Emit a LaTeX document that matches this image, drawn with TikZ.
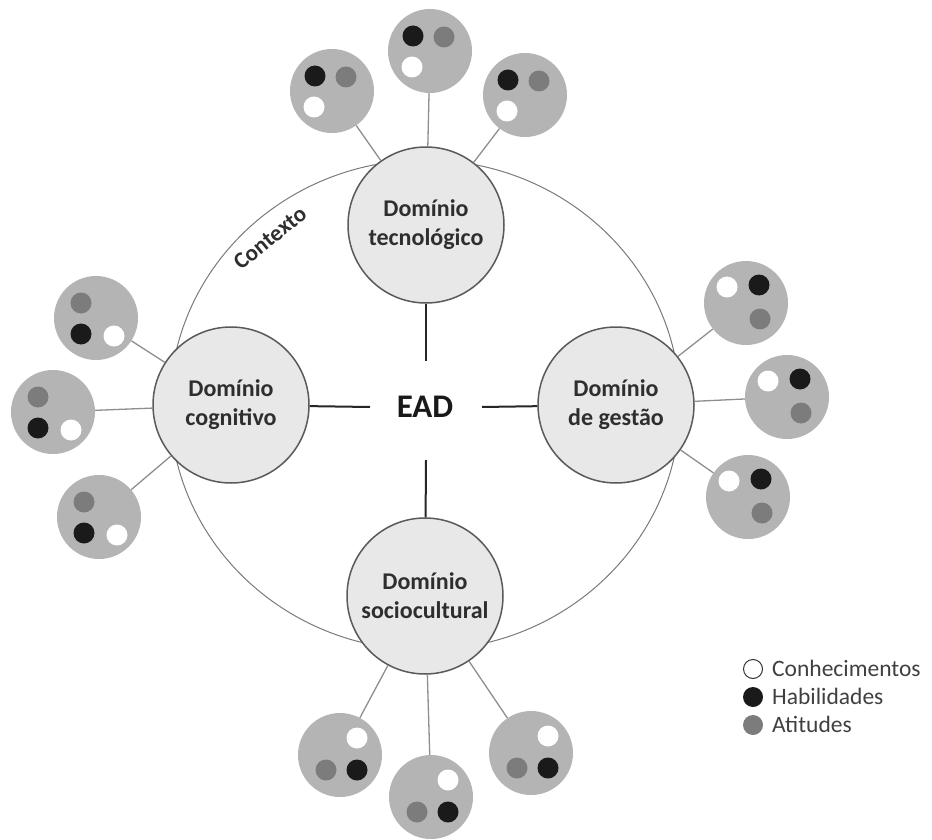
\documentclass[tikz,border=0pt]{standalone}
\usepackage{fontspec}
\setmainfont{Carlito}
\definecolor{satgray}{HTML}{B4B4B4}
\definecolor{domfill}{HTML}{E8E8E8}
\definecolor{domline}{HTML}{5A5A5A}
\definecolor{ringline}{HTML}{7A7A7A}
\definecolor{linkline}{HTML}{8E8E8E}
\definecolor{dotblack}{HTML}{1A1A1A}
\definecolor{dotgray}{HTML}{7C7C7C}
\definecolor{txt}{HTML}{2E2E2E}
\newcommand\dotset[7]{%
  \fill[white] ([shift={(#2,#3)}]#1) circle (10.5pt);
  \fill[dotblack] ([shift={(#4,#5)}]#1) circle (10.5pt);
  \fill[dotgray] ([shift={(#6,#7)}]#1) circle (10.5pt);
}
\begin{document}
\begin{tikzpicture}[x=1pt,y=-1pt,
  sat/.style={circle,fill=satgray,minimum size=84pt,inner sep=0pt},
  dom/.style={circle,fill=domfill,draw=domline,line width=1.5pt,minimum size=156pt,inner sep=0pt,
    align=center,font=\fontsize{24}{29}\selectfont\bfseries,text=txt},
  link/.style={draw=linkline,line width=1.3pt},
  hub/.style={draw=black!85,line width=2pt},
  leg/.style={anchor=west,font=\fontsize{23.5}{26}\selectfont,text=black!75,inner sep=0pt}]
\useasboundingbox (0,0) rectangle (932,840);
% context ring
\draw[ringline,line width=1pt] (425,405) ellipse [x radius=255pt,y radius=245pt];
\node[rotate=39,font=\fontsize{23}{26}\selectfont\bfseries,text=txt,inner sep=0pt] (ctx) at (270,238) {Contexto};
% satellites
\node[sat] (t1) at (332,91) {};
\node[sat] (t2) at (430,51) {};
\node[sat] (t3) at (525,95) {};
\node[sat] (c1) at (96,318) {};
\node[sat] (c2) at (53,412) {};
\node[sat] (c3) at (99,517) {};
\node[sat] (g1) at (746,303) {};
\node[sat] (g2) at (787,397) {};
\node[sat] (g3) at (748,497) {};
\node[sat] (s1) at (340,755) {};
\node[sat] (s2) at (431,797) {};
\node[sat] (s3) at (531,753) {};
% domains
\node[dom] (tec) at (426,225) {Domínio\\tecnológico};
\node[dom] (cog) at (231,405) {Domínio\\cognitivo};
\node[dom] (ges) at (616,405) {Domínio\\de gestão};
\node[dom] (soc) at (425,596) {Domínio\\sociocultural};
% links
\foreach \s in {t1,t2,t3} \draw[link] (\s) -- (tec);
\foreach \s in {c1,c2,c3} \draw[link] (\s) -- (cog);
\foreach \s in {g1,g2,g3} \draw[link] (\s) -- (ges);
\foreach \s in {s1,s2,s3} \draw[link] (\s) -- (soc);
% dots: white, black, gray
\foreach \s in {t1,t2,t3} {\dotset{\s}{-18}{16}{-17}{-15}{14}{-14}}
\foreach \s in {c1,c2,c3} {\dotset{\s}{18}{18}{-15}{16}{-15}{-15}}
\foreach \s in {g1,g2,g3} {\dotset{\s}{-19}{-16}{13}{-18}{14}{16}}
\foreach \s in {s1,s2,s3} {\dotset{\s}{17}{-17}{17}{15}{-14}{15}}
% hub
\node[font=\fontsize{33}{36}\selectfont\bfseries,text=black!90] (ead) at (425,407) {EAD};
\coordinate (hl) at (370,407);
\coordinate (hr) at (482,407);
\coordinate (ht) at (426,361);
\coordinate (hb) at (426,460);
\draw[hub] (cog) -- (hl);
\draw[hub] (hr) -- (ges);
\draw[hub] (tec) -- (ht);
\draw[hub] (hb) -- (soc);
% legend
\node[circle,draw=black!80,line width=1pt,fill=white,minimum size=19pt,inner sep=0pt] (lk) at (753,669) {};
\node[circle,fill=dotblack,minimum size=20pt,inner sep=0pt] (lh) at (753,697) {};
\node[circle,fill=dotgray,minimum size=20pt,inner sep=0pt] (la) at (753,725) {};
\node[leg] (tk) at (772,668) {Conhecimentos};
\node[leg] (th) at (772,696) {Habilidades};
\node[leg] (ta) at (772,724) {Atitudes};
\end{tikzpicture}
\end{document}
